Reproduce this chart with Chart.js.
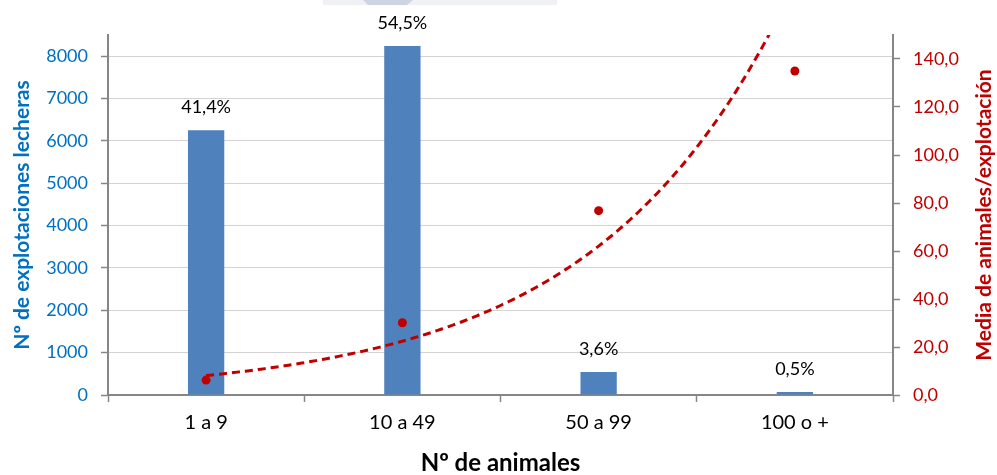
<!DOCTYPE html>
<html>
<head>
<meta charset="utf-8">
<script src="https://cdn.jsdelivr.net/npm/chart.js@4/dist/chart.umd.min.js"></script>
<style>
  html, body { margin: 0; padding: 0; background: #fff; }
  #wrap { width: 997px; height: 475px; }
</style>
</head>
<body>
<div id="wrap"><canvas id="c" width="997" height="475"></canvas></div>
<script>
// Explotaciones lecheras por tamaño de rebaño
const categories = ['1 a 9', '10 a 49', '50 a 99', '100 o +'];
const farms = [6250, 8240, 545, 70];
const shareLabels = ['41,4%', '54,5%', '3,6%', '0,5%'];
const avgAnimals = [6.2, 30.1, 76.8, 135.0];
const farmTicks = [0, 1000, 2000, 3000, 4000, 5000, 6000, 7000, 8000];

const BLUE = '#0070C0';
const RED = '#C00000';
const AXIS = '#868686';
const FONT = 'Lato, "Liberation Sans", sans-serif';

// Exponential trendline (least squares on ln y), like a spreadsheet trendline
function expFit(ys) {
  const n = ys.length;
  const xs = ys.map((_, i) => i + 1);
  const ly = ys.map(v => Math.log(v));
  const mx = xs.reduce((a, b) => a + b, 0) / n;
  const my = ly.reduce((a, b) => a + b, 0) / n;
  let sxy = 0, sxx = 0;
  for (let i = 0; i < n; i++) { sxy += (xs[i] - mx) * (ly[i] - my); sxx += (xs[i] - mx) ** 2; }
  const b = sxy / sxx;
  const a = Math.exp(my - b * mx);
  return { a, b };
}
const fit = expFit(avgAnimals);
const trendPts = [];
for (let x = 1; x <= avgAnimals.length + 1e-9; x += 0.02) {
  trendPts.push({ x: x, y: fit.a * Math.exp(fit.b * x) });
}

const barLabels = {
  id: 'barLabels',
  afterDatasetsDraw(chart) {
    const meta = chart.getDatasetMeta(0);
    const ctx = chart.ctx;
    ctx.save();
    ctx.font = '18px ' + FONT;
    ctx.fillStyle = '#000';
    ctx.textAlign = 'center';
    ctx.textBaseline = 'middle';
    meta.data.forEach((bar, i) => {
      ctx.fillText(shareLabels[i], bar.x, bar.y - 23);
    });
    ctx.restore();
  }
};

const rightTitle = {
  id: 'rightTitle',
  afterDraw(chart) {
    const ctx = chart.ctx;
    const s = chart.scales.y2;
    ctx.save();
    ctx.translate(984, (s.top + s.bottom) / 2);
    ctx.rotate(-Math.PI / 2);
    ctx.font = 'bold 21px ' + FONT;
    ctx.fillStyle = RED;
    ctx.textAlign = 'center';
    ctx.textBaseline = 'middle';
    ctx.fillText('Media de animales/explotación', 0, 0);
    ctx.restore();
  }
};

const headerMark = {
  id: 'headerMark',
  beforeDraw(chart) {
    const ctx = chart.ctx;
    ctx.save();
    ctx.fillStyle = '#F0F1F5';
    ctx.fillRect(323, 0, 234, 5);
    ctx.fillStyle = '#CDD5E5';
    ctx.beginPath();
    ctx.moveTo(363, 0); ctx.lineTo(413, 0); ctx.lineTo(407, 5); ctx.lineTo(368, 5);
    ctx.closePath();
    ctx.fill();
    ctx.restore();
  }
};

new Chart(document.getElementById('c'), {
  type: 'bar',
  data: {
    labels: categories,
    datasets: [
      {
        type: 'bar',
        label: 'Nº de explotaciones',
        data: farms,
        backgroundColor: '#4F81BD',
        borderWidth: 0,
        grouped: false,
        barPercentage: 0.185,
        categoryPercentage: 1,
        xAxisID: 'x',
        yAxisID: 'y',
        order: 2
      },
      {
        type: 'line',
        label: 'Tendencia',
        data: trendPts,
        xAxisID: 'xt',
        yAxisID: 'y2',
        borderColor: RED,
        borderWidth: 3,
        borderDash: [8, 5],
        pointRadius: 0,
        fill: false,
        tension: 0,
        order: 1
      },
      {
        type: 'line',
        label: 'Media de animales',
        data: avgAnimals,
        xAxisID: 'x',
        yAxisID: 'y2',
        showLine: false,
        pointRadius: 4.5,
        pointBackgroundColor: RED,
        pointBorderWidth: 0,
        order: 0
      }
    ]
  },
  options: {
    responsive: false,
    animation: false,
    layout: { padding: { top: 35, left: 0, right: 0, bottom: 0 } },
    plugins: { legend: { display: false }, tooltip: { enabled: false } },
    scales: {
      x: {
        type: 'category',
        offset: true,
        afterFit(s) { s.height = 80; },
        grid: { offset: true, drawOnChartArea: false, drawTicks: true, tickLength: 7, tickColor: AXIS, tickWidth: 1.5 },
        border: { color: AXIS, width: 2 },
        ticks: { color: '#000', font: { family: FONT, size: 20 }, padding: 9, maxRotation: 0 },
        title: { display: true, text: 'Nº de animales', color: '#000', font: { family: FONT, size: 24, weight: 'bold', lineHeight: 1 }, padding: { top: 0, bottom: 0 } }
      },
      xt: {
        type: 'linear',
        display: false,
        offset: false,
        bounds: 'data',
        min: 0.5,
        max: 4.5
      },
      y: {
        position: 'left',
        min: 0,
        max: 8500,
        afterFit(s) { s.width = 108; },
        afterBuildTicks(s) { s.ticks = farmTicks.map(v => ({ value: v })); },
        grid: { color: '#D3D3D3', lineWidth: 1, drawTicks: true, tickLength: 7, tickColor: AXIS, tickWidth: 1.5 },
        border: { color: AXIS, width: 2 },
        ticks: { color: BLUE, font: { family: FONT, size: 18 }, padding: 13, callback: v => String(v) },
        title: { display: true, text: 'Nº de explotaciones lecheras', color: BLUE, font: { family: FONT, size: 21, weight: 'bold', lineHeight: 1.2 }, padding: { top: 10, bottom: 0 } }
      },
      y2: {
        position: 'right',
        min: 0,
        max: 150,
        afterFit(s) { s.width = 104; },
        grid: { drawOnChartArea: false, drawTicks: true, tickLength: 7, tickColor: AXIS, tickWidth: 1.5 },
        border: { color: AXIS, width: 2 },
        ticks: {
          stepSize: 20,
          includeBounds: false,
          color: RED,
          font: { family: FONT, size: 18 },
          padding: 13,
          callback: v => v.toFixed(1).replace('.', ',')
        }
      }
    }
  },
  plugins: [barLabels, rightTitle, headerMark]
});
</script>
</body>
</html>
